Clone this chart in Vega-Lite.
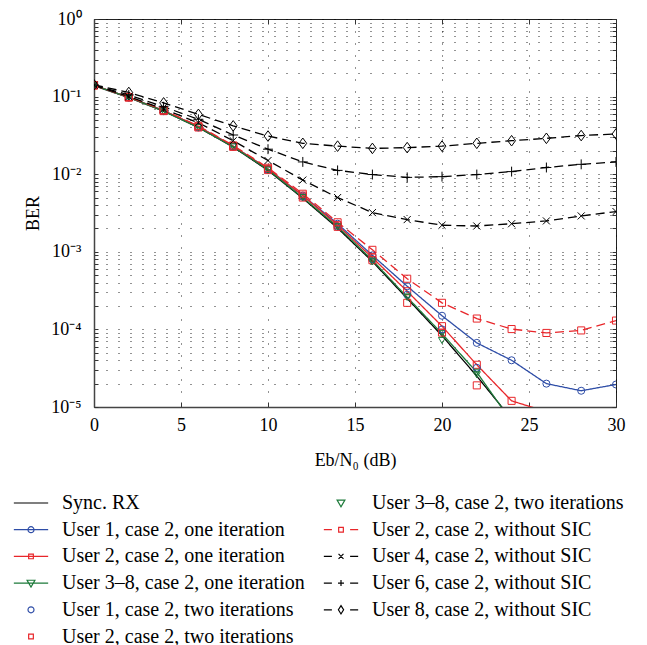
{
  "$schema": "https://vega.github.io/schema/vega-lite/v6.json",
  "width": 522,
  "height": 388,
  "autosize": {"type": "none"},
  "padding": {"left": 94, "top": 19, "right": 31, "bottom": 238},
  "background": "white",
  "config": {
    "view": {"stroke": "#222", "strokeWidth": 1},
    "font": "Liberation Serif",
    "axis": {
      "labelFont": "Liberation Serif", "titleFont": "Liberation Serif",
      "labelFontSize": 18, "titleFontSize": 18, "titleFontWeight": "normal",
      "labelColor": "#000", "titleColor": "#000",
      "domainColor": "#444", "domainWidth": 1.5,
      "tickColor": "#333", "tickWidth": 1,
      "gridColor": "#000", "gridDash": [1, 11], "gridOpacity": 0.85, "gridWidth": 1
    },
    "legend": {
      "labelFont": "Liberation Serif", "labelFontSize": 20, "labelColor": "#000",
      "labelLimit": 0, "symbolSize": 676, "symbolStrokeWidth": 1.2,
      "labelOffset": 17, "rowPadding": 2.7, "columnPadding": 16, "padding": 0
    }
  },
  "data": {"values": [
    {"series": "Sync. RX", "snr": 0, "ber": 0.138},
    {"series": "Sync. RX", "snr": 2, "ber": 0.097},
    {"series": "Sync. RX", "snr": 4, "ber": 0.065},
    {"series": "Sync. RX", "snr": 6, "ber": 0.040},
    {"series": "Sync. RX", "snr": 8, "ber": 0.0224},
    {"series": "Sync. RX", "snr": 10, "ber": 0.0112},
    {"series": "Sync. RX", "snr": 12, "ber": 0.0049},
    {"series": "Sync. RX", "snr": 14, "ber": 0.00202},
    {"series": "Sync. RX", "snr": 16, "ber": 0.00075},
    {"series": "Sync. RX", "snr": 18, "ber": 0.00025},
    {"series": "Sync. RX", "snr": 20, "ber": 0.000083},
    {"series": "Sync. RX", "snr": 22, "ber": 0.000025},
    {"series": "Sync. RX", "snr": 24, "ber": 0.000007},

    {"series": "User 1, case 2, one iteration", "snr": 0, "ber": 0.140},
    {"series": "User 1, case 2, one iteration", "snr": 2, "ber": 0.098},
    {"series": "User 1, case 2, one iteration", "snr": 4, "ber": 0.066},
    {"series": "User 1, case 2, one iteration", "snr": 6, "ber": 0.041},
    {"series": "User 1, case 2, one iteration", "snr": 8, "ber": 0.0230},
    {"series": "User 1, case 2, one iteration", "snr": 10, "ber": 0.0117},
    {"series": "User 1, case 2, one iteration", "snr": 12, "ber": 0.0053},
    {"series": "User 1, case 2, one iteration", "snr": 14, "ber": 0.0023},
    {"series": "User 1, case 2, one iteration", "snr": 16, "ber": 0.00090},
    {"series": "User 1, case 2, one iteration", "snr": 18, "ber": 0.00036},
    {"series": "User 1, case 2, one iteration", "snr": 20, "ber": 0.00015},
    {"series": "User 1, case 2, one iteration", "snr": 22, "ber": 0.000067},
    {"series": "User 1, case 2, one iteration", "snr": 24, "ber": 0.000040},
    {"series": "User 1, case 2, one iteration", "snr": 26, "ber": 0.000020},
    {"series": "User 1, case 2, one iteration", "snr": 28, "ber": 0.0000162},
    {"series": "User 1, case 2, one iteration", "snr": 30, "ber": 0.0000195},

    {"series": "User 2, case 2, one iteration", "snr": 0, "ber": 0.140},
    {"series": "User 2, case 2, one iteration", "snr": 2, "ber": 0.098},
    {"series": "User 2, case 2, one iteration", "snr": 4, "ber": 0.066},
    {"series": "User 2, case 2, one iteration", "snr": 6, "ber": 0.041},
    {"series": "User 2, case 2, one iteration", "snr": 8, "ber": 0.0230},
    {"series": "User 2, case 2, one iteration", "snr": 10, "ber": 0.0117},
    {"series": "User 2, case 2, one iteration", "snr": 12, "ber": 0.0053},
    {"series": "User 2, case 2, one iteration", "snr": 14, "ber": 0.0022},
    {"series": "User 2, case 2, one iteration", "snr": 16, "ber": 0.00084},
    {"series": "User 2, case 2, one iteration", "snr": 18, "ber": 0.00031},
    {"series": "User 2, case 2, one iteration", "snr": 20, "ber": 0.00011},
    {"series": "User 2, case 2, one iteration", "snr": 22, "ber": 0.000035},
    {"series": "User 2, case 2, one iteration", "snr": 24, "ber": 0.000012},
    {"series": "User 2, case 2, one iteration", "snr": 26, "ber": 0.0000087},

    {"series": "User 3–8, case 2, one iteration", "snr": 0, "ber": 0.139},
    {"series": "User 3–8, case 2, one iteration", "snr": 2, "ber": 0.098},
    {"series": "User 3–8, case 2, one iteration", "snr": 4, "ber": 0.065},
    {"series": "User 3–8, case 2, one iteration", "snr": 6, "ber": 0.040},
    {"series": "User 3–8, case 2, one iteration", "snr": 8, "ber": 0.0226},
    {"series": "User 3–8, case 2, one iteration", "snr": 10, "ber": 0.0114},
    {"series": "User 3–8, case 2, one iteration", "snr": 12, "ber": 0.0050},
    {"series": "User 3–8, case 2, one iteration", "snr": 14, "ber": 0.0021},
    {"series": "User 3–8, case 2, one iteration", "snr": 16, "ber": 0.00078},
    {"series": "User 3–8, case 2, one iteration", "snr": 18, "ber": 0.00026},
    {"series": "User 3–8, case 2, one iteration", "snr": 20, "ber": 0.000088},
    {"series": "User 3–8, case 2, one iteration", "snr": 22, "ber": 0.000028},
    {"series": "User 3–8, case 2, one iteration", "snr": 24, "ber": 0.0000065},

    {"series": "User 1, case 2, two iterations", "snr": 0, "ber": 0.139},
    {"series": "User 1, case 2, two iterations", "snr": 2, "ber": 0.097},
    {"series": "User 1, case 2, two iterations", "snr": 4, "ber": 0.065},
    {"series": "User 1, case 2, two iterations", "snr": 6, "ber": 0.040},
    {"series": "User 1, case 2, two iterations", "snr": 8, "ber": 0.0226},
    {"series": "User 1, case 2, two iterations", "snr": 10, "ber": 0.0114},
    {"series": "User 1, case 2, two iterations", "snr": 12, "ber": 0.0051},
    {"series": "User 1, case 2, two iterations", "snr": 14, "ber": 0.0021},
    {"series": "User 1, case 2, two iterations", "snr": 16, "ber": 0.00080},
    {"series": "User 1, case 2, two iterations", "snr": 18, "ber": 0.00028},
    {"series": "User 1, case 2, two iterations", "snr": 20, "ber": 0.00010},
    {"series": "User 1, case 2, two iterations", "snr": 22, "ber": 0.000032},

    {"series": "User 2, case 2, two iterations", "snr": 0, "ber": 0.139},
    {"series": "User 2, case 2, two iterations", "snr": 2, "ber": 0.097},
    {"series": "User 2, case 2, two iterations", "snr": 4, "ber": 0.065},
    {"series": "User 2, case 2, two iterations", "snr": 6, "ber": 0.040},
    {"series": "User 2, case 2, two iterations", "snr": 8, "ber": 0.0225},
    {"series": "User 2, case 2, two iterations", "snr": 10, "ber": 0.0113},
    {"series": "User 2, case 2, two iterations", "snr": 12, "ber": 0.0050},
    {"series": "User 2, case 2, two iterations", "snr": 14, "ber": 0.0021},
    {"series": "User 2, case 2, two iterations", "snr": 16, "ber": 0.00078},
    {"series": "User 2, case 2, two iterations", "snr": 18, "ber": 0.00022},
    {"series": "User 2, case 2, two iterations", "snr": 20, "ber": 0.000091},
    {"series": "User 2, case 2, two iterations", "snr": 22, "ber": 0.000019},

    {"series": "User 3–8, case 2, two iterations", "snr": 0, "ber": 0.139},
    {"series": "User 3–8, case 2, two iterations", "snr": 2, "ber": 0.097},
    {"series": "User 3–8, case 2, two iterations", "snr": 4, "ber": 0.065},
    {"series": "User 3–8, case 2, two iterations", "snr": 6, "ber": 0.040},
    {"series": "User 3–8, case 2, two iterations", "snr": 8, "ber": 0.0225},
    {"series": "User 3–8, case 2, two iterations", "snr": 10, "ber": 0.0113},
    {"series": "User 3–8, case 2, two iterations", "snr": 12, "ber": 0.0050},
    {"series": "User 3–8, case 2, two iterations", "snr": 14, "ber": 0.0021},
    {"series": "User 3–8, case 2, two iterations", "snr": 16, "ber": 0.00074},
    {"series": "User 3–8, case 2, two iterations", "snr": 18, "ber": 0.00026},
    {"series": "User 3–8, case 2, two iterations", "snr": 20, "ber": 0.000072},
    {"series": "User 3–8, case 2, two iterations", "snr": 22, "ber": 0.000026},

    {"series": "User 2, case 2, without SIC", "snr": 0, "ber": 0.140},
    {"series": "User 2, case 2, without SIC", "snr": 2, "ber": 0.099},
    {"series": "User 2, case 2, without SIC", "snr": 4, "ber": 0.067},
    {"series": "User 2, case 2, without SIC", "snr": 6, "ber": 0.042},
    {"series": "User 2, case 2, without SIC", "snr": 8, "ber": 0.0235},
    {"series": "User 2, case 2, without SIC", "snr": 10, "ber": 0.0121},
    {"series": "User 2, case 2, without SIC", "snr": 12, "ber": 0.0056},
    {"series": "User 2, case 2, without SIC", "snr": 14, "ber": 0.0024},
    {"series": "User 2, case 2, without SIC", "snr": 16, "ber": 0.00106},
    {"series": "User 2, case 2, without SIC", "snr": 18, "ber": 0.00045},
    {"series": "User 2, case 2, without SIC", "snr": 20, "ber": 0.00022},
    {"series": "User 2, case 2, without SIC", "snr": 22, "ber": 0.000138},
    {"series": "User 2, case 2, without SIC", "snr": 24, "ber": 0.000101},
    {"series": "User 2, case 2, without SIC", "snr": 26, "ber": 0.000090},
    {"series": "User 2, case 2, without SIC", "snr": 28, "ber": 0.000097},
    {"series": "User 2, case 2, without SIC", "snr": 30, "ber": 0.00013},

    {"series": "User 4, case 2, without SIC", "snr": 0, "ber": 0.140},
    {"series": "User 4, case 2, without SIC", "snr": 2, "ber": 0.100},
    {"series": "User 4, case 2, without SIC", "snr": 4, "ber": 0.069},
    {"series": "User 4, case 2, without SIC", "snr": 6, "ber": 0.046},
    {"series": "User 4, case 2, without SIC", "snr": 8, "ber": 0.027},
    {"series": "User 4, case 2, without SIC", "snr": 10, "ber": 0.0150},
    {"series": "User 4, case 2, without SIC", "snr": 12, "ber": 0.0084},
    {"series": "User 4, case 2, without SIC", "snr": 14, "ber": 0.0050},
    {"series": "User 4, case 2, without SIC", "snr": 16, "ber": 0.0032},
    {"series": "User 4, case 2, without SIC", "snr": 18, "ber": 0.0026},
    {"series": "User 4, case 2, without SIC", "snr": 20, "ber": 0.0022},
    {"series": "User 4, case 2, without SIC", "snr": 22, "ber": 0.00215},
    {"series": "User 4, case 2, without SIC", "snr": 24, "ber": 0.0023},
    {"series": "User 4, case 2, without SIC", "snr": 26, "ber": 0.0025},
    {"series": "User 4, case 2, without SIC", "snr": 28, "ber": 0.0029},
    {"series": "User 4, case 2, without SIC", "snr": 30, "ber": 0.0033},

    {"series": "User 6, case 2, without SIC", "snr": 0, "ber": 0.141},
    {"series": "User 6, case 2, without SIC", "snr": 2, "ber": 0.105},
    {"series": "User 6, case 2, without SIC", "snr": 4, "ber": 0.074},
    {"series": "User 6, case 2, without SIC", "snr": 6, "ber": 0.051},
    {"series": "User 6, case 2, without SIC", "snr": 8, "ber": 0.032},
    {"series": "User 6, case 2, without SIC", "snr": 10, "ber": 0.021},
    {"series": "User 6, case 2, without SIC", "snr": 12, "ber": 0.0144},
    {"series": "User 6, case 2, without SIC", "snr": 14, "ber": 0.0112},
    {"series": "User 6, case 2, without SIC", "snr": 16, "ber": 0.0099},
    {"series": "User 6, case 2, without SIC", "snr": 18, "ber": 0.0091},
    {"series": "User 6, case 2, without SIC", "snr": 20, "ber": 0.0093},
    {"series": "User 6, case 2, without SIC", "snr": 22, "ber": 0.0099},
    {"series": "User 6, case 2, without SIC", "snr": 24, "ber": 0.0108},
    {"series": "User 6, case 2, without SIC", "snr": 26, "ber": 0.0122},
    {"series": "User 6, case 2, without SIC", "snr": 28, "ber": 0.0134},
    {"series": "User 6, case 2, without SIC", "snr": 30, "ber": 0.0144},

    {"series": "User 8, case 2, without SIC", "snr": 0, "ber": 0.142},
    {"series": "User 8, case 2, without SIC", "snr": 2, "ber": 0.113},
    {"series": "User 8, case 2, without SIC", "snr": 4, "ber": 0.083},
    {"series": "User 8, case 2, without SIC", "snr": 6, "ber": 0.059},
    {"series": "User 8, case 2, without SIC", "snr": 8, "ber": 0.042},
    {"series": "User 8, case 2, without SIC", "snr": 10, "ber": 0.031},
    {"series": "User 8, case 2, without SIC", "snr": 12, "ber": 0.025},
    {"series": "User 8, case 2, without SIC", "snr": 14, "ber": 0.023},
    {"series": "User 8, case 2, without SIC", "snr": 16, "ber": 0.0215},
    {"series": "User 8, case 2, without SIC", "snr": 18, "ber": 0.022},
    {"series": "User 8, case 2, without SIC", "snr": 20, "ber": 0.023},
    {"series": "User 8, case 2, without SIC", "snr": 22, "ber": 0.025},
    {"series": "User 8, case 2, without SIC", "snr": 24, "ber": 0.027},
    {"series": "User 8, case 2, without SIC", "snr": 26, "ber": 0.029},
    {"series": "User 8, case 2, without SIC", "snr": 28, "ber": 0.0315},
    {"series": "User 8, case 2, without SIC", "snr": 30, "ber": 0.033}
  ]},
  "layer": [
    {
      "transform": [{"filter": "indexof(['User 1, case 2, two iterations', 'User 2, case 2, two iterations', 'User 3–8, case 2, two iterations'], datum.series) < 0"}],
      "mark": {"type": "line", "strokeWidth": 1.3, "clip": true},
      "encoding": {
        "x": {"field": "snr", "type": "quantitative",
          "scale": {"domain": [0, 30], "nice": false, "zero": false},
          "axis": {"orient": "bottom", "values": [0, 5, 10, 15, 20, 25, 30], "grid": true,
            "tickSize": -5, "labelPadding": 14, "labelFlush": false,
            "labelFont": "Liberation Serif", "titleFont": "Liberation Serif",
            "title": "Eb/N₀ (dB)", "titlePadding": 17}},
        "y": {"field": "ber", "type": "quantitative",
          "scale": {"type": "log", "domain": [0.00001, 1], "nice": false},
          "axis": {"orient": "left", "grid": true, "tickSize": -4, "labelPadding": 17,
            "labelFlush": false, "labelOverlap": false,
            "labelFont": "Liberation Serif", "titleFont": "Liberation Serif",
            "values": [0.00001, 0.00002, 0.00003, 0.00004, 0.00005, 0.00006, 0.00007, 0.00008, 0.00009,
                       0.0001, 0.0002, 0.0003, 0.0004, 0.0005, 0.0006, 0.0007, 0.0008, 0.0009,
                       0.001, 0.002, 0.003, 0.004, 0.005, 0.006, 0.007, 0.008, 0.009,
                       0.01, 0.02, 0.03, 0.04, 0.05, 0.06, 0.07, 0.08, 0.09,
                       0.1, 0.2, 0.3, 0.4, 0.5, 0.6, 0.7, 0.8, 0.9, 1],
            "labelExpr": "abs(datum.value/pow(10, round(log(datum.value)/LN10)) - 1) < 0.01 ? '10' + ['⁰','⁻¹','⁻²','⁻³','⁻⁴','⁻⁵'][-round(log(datum.value)/LN10)] : ''",
            "title": "BER", "titlePadding": 8}},
        "color": {"field": "series", "type": "nominal",
          "scale": {
            "domain": ["Sync. RX", "User 1, case 2, one iteration", "User 2, case 2, one iteration", "User 3–8, case 2, one iteration", "User 1, case 2, two iterations", "User 2, case 2, two iterations", "User 3–8, case 2, two iterations", "User 2, case 2, without SIC", "User 4, case 2, without SIC", "User 6, case 2, without SIC", "User 8, case 2, without SIC"],
            "range": ["#000000", "#2e4da7", "#e8262a", "#1d7a3a", "#2e4da7", "#e8262a", "#1d7a3a", "#e8262a", "#000000", "#000000", "#000000"]},
          "legend": {
            "title": null, "orient": "none", "legendX": -77, "legendY": 470, "columns": 2,
            "labelFont": "Liberation Serif", "labelFontSize": 20,
            "encode": {"symbols": {"update": {
              "shape": {"signal": "['M-1.32,0H1.32', 'M-1.32,0H1.32M0.23,0A0.23,0.23,0,1,1,-0.23,0A0.23,0.23,0,1,1,0.23,0', 'M-1.32,0H1.32M-0.18,-0.18H0.18V0.18H-0.18Z', 'M-1.32,0H1.32M-0.3,-0.22H0.3L0,0.3Z', 'M0.23,0A0.23,0.23,0,1,1,-0.23,0A0.23,0.23,0,1,1,0.23,0', 'M-0.18,-0.18H0.18V0.18H-0.18Z', 'M-0.3,-0.22H0.3L0,0.3Z', 'M-1.32,0H-0.7M0.7,0H1.32M-0.18,-0.18H0.18V0.18H-0.18Z', 'M-1.32,0H-0.7M0.7,0H1.32M-0.19,-0.19L0.19,0.19M-0.19,0.19L0.19,-0.19', 'M-1.32,0H-0.7M0.7,0H1.32M-0.23,0H0.23M0,-0.23V0.23', 'M-1.32,0H-0.7M0.7,0H1.32M0,-0.32L0.2,0L0,0.32L-0.2,0Z'][indexof(['Sync. RX', 'User 1, case 2, one iteration', 'User 2, case 2, one iteration', 'User 3–8, case 2, one iteration', 'User 1, case 2, two iterations', 'User 2, case 2, two iterations', 'User 3–8, case 2, two iterations', 'User 2, case 2, without SIC', 'User 4, case 2, without SIC', 'User 6, case 2, without SIC', 'User 8, case 2, without SIC'], datum.value)]"},
              "fill": {"value": "transparent"},
              "stroke": {"signal": "scale('color', datum.value)"},
              "strokeWidth": {"value": 1.2},
              "strokeDash": {"value": []},
              "size": {"value": 676},
              "opacity": {"value": 1}
            }}}
          }},
        "strokeDash": {"field": "series", "type": "nominal", "legend": null,
          "scale": {
            "domain": ["Sync. RX", "User 1, case 2, one iteration", "User 2, case 2, one iteration", "User 3–8, case 2, one iteration", "User 2, case 2, without SIC", "User 4, case 2, without SIC", "User 6, case 2, without SIC", "User 8, case 2, without SIC"],
            "range": [[1, 0], [1, 0], [1, 0], [1, 0], [9, 5], [9, 5], [9, 5], [9, 5]]}}
      }
    },
    {
      "transform": [{"filter": "datum.series != 'Sync. RX'"}],
      "mark": {"type": "point", "filled": false, "size": 50, "strokeWidth": 1, "opacity": 1, "clip": true},
      "encoding": {
        "x": {"field": "snr", "type": "quantitative",
          "axis": {"orient": "top", "values": [0, 5, 10, 15, 20, 25, 30], "grid": false,
            "tickSize": -5, "labels": false, "domain": false, "title": null}},
        "y": {"field": "ber", "type": "quantitative",
          "axis": {"orient": "right", "grid": false, "tickSize": -4, "labels": false, "domain": false, "title": null,
            "values": [0.00001, 0.00002, 0.00003, 0.00004, 0.00005, 0.00006, 0.00007, 0.00008, 0.00009,
                       0.0001, 0.0002, 0.0003, 0.0004, 0.0005, 0.0006, 0.0007, 0.0008, 0.0009,
                       0.001, 0.002, 0.003, 0.004, 0.005, 0.006, 0.007, 0.008, 0.009,
                       0.01, 0.02, 0.03, 0.04, 0.05, 0.06, 0.07, 0.08, 0.09,
                       0.1, 0.2, 0.3, 0.4, 0.5, 0.6, 0.7, 0.8, 0.9, 1]}},
        "color": {"field": "series", "type": "nominal"},
        "shape": {"field": "series", "type": "nominal", "legend": null,
          "scale": {
            "domain": ["User 1, case 2, one iteration", "User 2, case 2, one iteration", "User 3–8, case 2, one iteration", "User 1, case 2, two iterations", "User 2, case 2, two iterations", "User 3–8, case 2, two iterations", "User 2, case 2, without SIC", "User 4, case 2, without SIC", "User 6, case 2, without SIC", "User 8, case 2, without SIC"],
            "range": ["circle", "square", "triangle-down", "circle", "square", "triangle-down", "square", "M-1,-1L1,1M-1,1L1,-1", "M-1.4,0H1.4M0,-1.4V1.4", "M0,-1.5L1.1,0L0,1.5L-1.1,0Z"]}}
      }
    }
  ],
  "resolve": {"axis": {"x": "independent", "y": "independent"}}
}
